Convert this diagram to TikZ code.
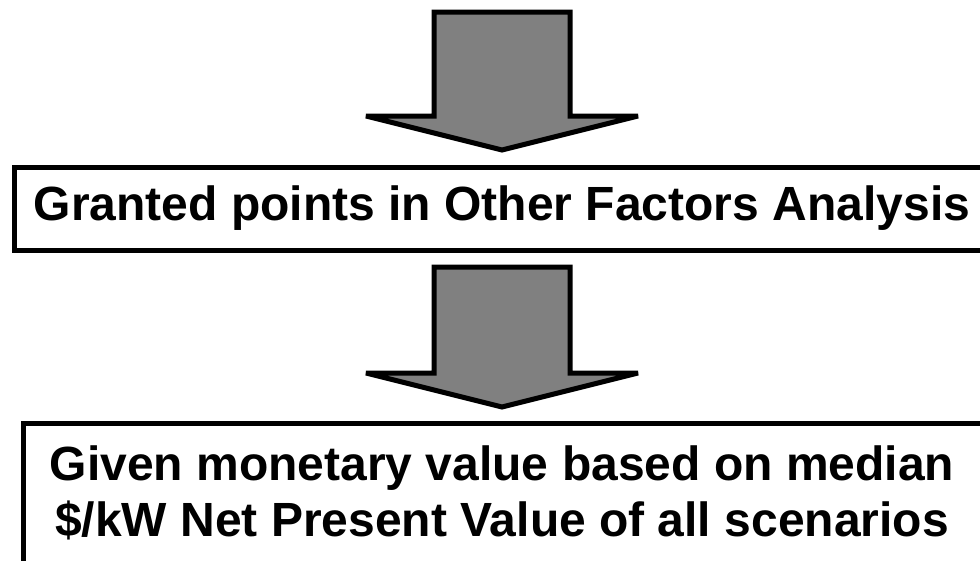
\documentclass[tikz,border=0pt]{standalone}
\usepackage{fontspec}
\setmainfont{Liberation Sans}
\usetikzlibrary{calc}
\definecolor{arrowgray}{RGB}{128,128,128}
\tikzset{
  stagetext/.style={align=center, inner sep=0pt, font=\bfseries\fontsize{48}{56}\selectfont},
  stageline/.style={draw, line width=5pt},
  blockarrow/.style={draw, fill=arrowgray, line width=5pt, line join=miter, miter limit=4},
}
% block arrow: #1 = top of the shaft, #2 = tip
\newcommand{\flowarrow}[2]{%
  \draw[blockarrow] ($(#1)+(-68,0)$) -- ($(#2)+(-68,-34)$) -- ($(#2)+(-136,-34)$)
    -- (#2) -- ($(#2)+(136,-34)$) -- ($(#2)+(68,-34)$) -- ($(#1)+(68,0)$) -- cycle;}
\begin{document}
\begin{tikzpicture}[x=1pt, y=-1pt]
    \useasboundingbox (0,0) rectangle (980,560);
    \clip (0,0) rectangle (980,560);
    % the two boxes run off the right edge of the picture
    \node[stagetext] (factors) at (502,208.5) {Granted points in Other Factors Analysis};
    \draw[stageline] ($(factors.center)+(-488,-41.5)$) rectangle ++(1040,83);
    \node[stagetext] (value) at (502,493)
      {Given monetary value based on median\\\$/kW Net Present Value of all scenarios};
    \draw[stageline] ($(value.center)+(-479,-70)$) rectangle ++(1040,160);
    \coordinate (top1) at (502,12);
    \coordinate (tip1) at ($(factors.center)+(0,-58.5)$);
    \coordinate (top2) at ($(factors.center)+(0,58.5)$);
    \coordinate (tip2) at ($(value.center)+(0,-86)$);
    \flowarrow{top1}{tip1}
    \flowarrow{top2}{tip2}
\end{tikzpicture}
\end{document}
